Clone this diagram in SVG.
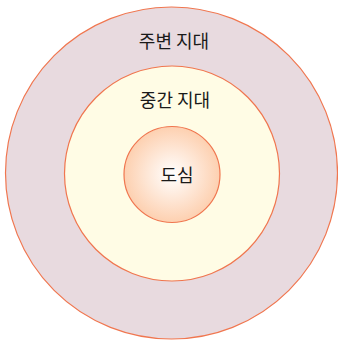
<svg xmlns="http://www.w3.org/2000/svg" width="338" height="341" viewBox="0 0 338 341">
<style>
.ring{stroke:#f0764f;stroke-width:1.2}
text{font-family:"Noto Sans CJK KR","Noto Sans",sans-serif;font-size:18px;fill:#1a1a1a;text-anchor:middle}
</style>
<defs>
<radialGradient id="core" cx="0.5" cy="0.5" r="0.5">
<stop offset="0" stop-color="#ffffff"/>
<stop offset="1" stop-color="#fdd0b0"/>
</radialGradient>
</defs>
<rect width="338" height="341" fill="#ffffff"/>
<g id="outer"><circle class="ring" cx="171.5" cy="173" r="166" fill="#e8dadf"/><text x="174" y="48">주변 지대</text></g>
<g id="middle"><circle class="ring" cx="172" cy="173.5" r="107.5" fill="#fffce5"/><text x="175" y="107">중간 지대</text></g>
<g id="core-node"><circle class="ring" cx="172" cy="174.5" r="48" fill="url(#core)"/><text x="177" y="182">도심</text></g>
<g id="connectors"/>
</svg>
